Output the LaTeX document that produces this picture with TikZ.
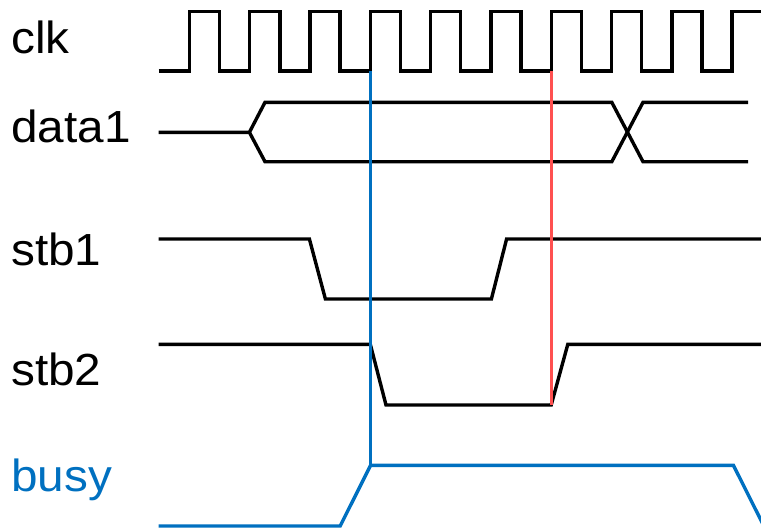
\documentclass[tikz,border=0pt]{standalone}
\usepackage{fontspec}
\setmainfont{Liberation Sans}
\definecolor{sigblue}{RGB}{0,112,192}
\definecolor{sigred}{RGB}{255,80,80}
\begin{document}
\begin{tikzpicture}[x=1pt,y=-1pt,
  wave/.style={line width=3.4pt,black},
  bluewave/.style={line width=3.4pt,sigblue},
  marker/.style={line width=3.4pt},
  siglabel/.style={anchor=base west,inner sep=0pt,xscale=1.06,font=\fontsize{45}{45}\selectfont}]
\useasboundingbox (0,0) rectangle (761,528);
\clip (0,0) rectangle (761,528);
% labels
\node[siglabel] (lclk) at (11,53) {clk};
\node[siglabel] (ldata) at (11,142.5) {data1};
\node[siglabel] (lstba) at (11,265) {stb1};
\node[siglabel] (lstbb) at (11,385) {stb2};
\node[siglabel,text=sigblue] (lbusy) at (11,491.7) {busy};
% clock
\draw[wave] (158.5,71)
  \foreach \k in {0,...,8} {
    -- ({189.4+60.3*\k},71) -- ({189.4+60.3*\k},11.7)
    -- ({219.5+60.3*\k},11.7) -- ({219.5+60.3*\k},71)
  }
  -- (732.1,71) -- (732.1,11.7) -- (765,11.7);
% data1
\draw[wave] (158.5,132.3) -- (249.4,132.3) -- (265,102.3) -- (611.8,102.3)
  -- (643,161.7) -- (748,161.7);
\draw[wave] (249.4,132.3) -- (265,161.7) -- (611.8,161.7)
  -- (643,102.3) -- (748,102.3);
% stb1
\draw[wave] (158.5,239) -- (309.4,239) -- (325.4,299) -- (491.4,299)
  -- (506.6,239) -- (765,239);
% stb2
\draw[wave] (158.5,344.3) -- (370.3,344.3) -- (386,405) -- (551.2,405)
  -- (567.8,344.3) -- (765,344.3);
% busy
\draw[bluewave] (158.5,526) -- (340.2,526) -- (370.6,465.3) -- (733.4,465.3)
  -- (768.4,535);
% markers
\coordinate (bluetop) at (370.3,71);
\coordinate (bluebot) at (370.3,465.3);
\coordinate (redtop) at (551.2,71);
\coordinate (redbot) at (551.2,405);
\draw[marker,sigblue] (bluetop) -- (bluebot);
\draw[marker,sigred] (redtop) -- (redbot);
\end{tikzpicture}
\end{document}
